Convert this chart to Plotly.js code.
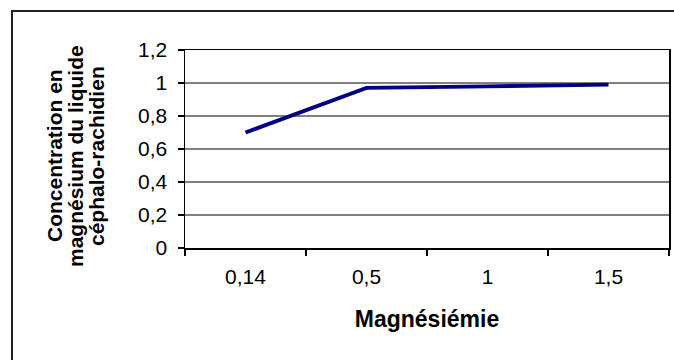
<!DOCTYPE html>
<html>
<head>
<meta charset="utf-8">
<script src="https://cdn.plot.ly/plotly-3.0.1.min.js"></script>
<style>
  html, body { margin: 0; padding: 0; background: #fff; }
  #frame { position: absolute; left: 11px; top: 10px; width: 700px; height: 400px; border-left: 2px solid #222; border-top: 2px solid #222; }
  #chart { position: absolute; left: 0; top: 0; width: 674px; height: 360px; }
</style>
</head>
<body>
<div id="frame"></div>
<div id="chart"></div>
<script>
const categories = ["0,14", "0,5", "1", "1,5"];
const concentration = [0.70, 0.97, 0.98, 0.99];
const yTickValues = [0, 0.2, 0.4, 0.6, 0.8, 1, 1.2];
const yTickLabels = ["0", "0,2", "0,4", "0,6", "0,8", "1", "1,2"];
const yTitleLines = ["Concentration en", "magnésium du liquide", "céphalo-rachidien"];
const xTitle = "Magnésiémie";

const font = "Liberation Sans, Arial, sans-serif";

const trace = {
  x: categories,
  y: concentration,
  type: "scatter",
  mode: "lines",
  line: { color: "#000080", width: 3.8 },
  hoverinfo: "skip"
};

const shifts = [-131, -110, -89];
const annotations = yTitleLines.map((t, i) => ({
  text: "<b>" + t + "</b>",
  xref: "paper", yref: "paper",
  x: 0, y: 0.5,
  xanchor: "center", yanchor: "middle",
  xshift: shifts[i], yshift: -7,
  textangle: -90,
  showarrow: false,
  font: { family: font, size: 21, color: "#000" }
}));

const layout = {
  width: 674, height: 360,
  margin: { l: 185, r: 5, t: 50, b: 112 },
  paper_bgcolor: "rgba(0,0,0,0)",
  plot_bgcolor: "#fff",
  showlegend: false,
  xaxis: {
    type: "category",
    range: [-0.5, 3.5],
    tickson: "boundaries",
    ticks: "outside", ticklen: 6, tickwidth: 1.5, tickcolor: "#000",
    showline: true, linecolor: "#000", linewidth: 1.5, mirror: true,
    showgrid: false, zeroline: false,
    ticklabelstandoff: 9,
    tickfont: { family: font, size: 21, color: "#000" },
    title: { text: "<b>" + xTitle + "</b>", font: { family: font, size: 23, color: "#000" }, standoff: 24 }
  },
  yaxis: {
    range: [0, 1.2],
    tickvals: yTickValues,
    ticktext: yTickLabels,
    ticks: "outside", ticklen: 6, tickwidth: 1.5, tickcolor: "#000",
    showline: true, linecolor: "#000", linewidth: 1.5, mirror: true,
    showgrid: true, gridcolor: "#808080", gridwidth: 1.5,
    zeroline: false,
    ticklabelstandoff: 6,
    tickfont: { family: font, size: 21, color: "#000" }
  },
  annotations: annotations
};

Plotly.newPlot("chart", [trace], layout, { staticPlot: true, displayModeBar: false });
</script>
</body>
</html>
